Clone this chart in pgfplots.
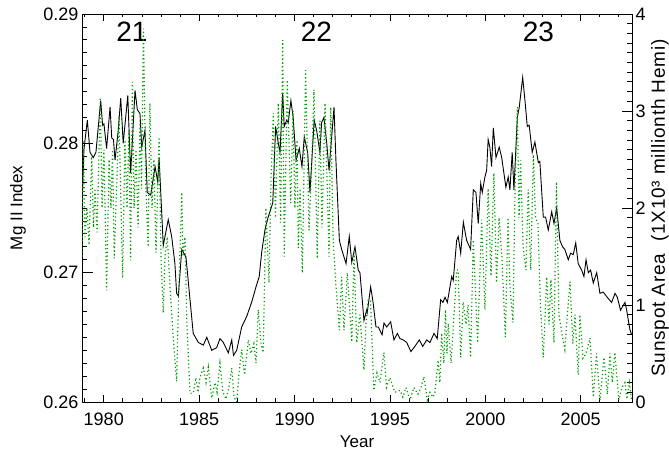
\documentclass[border=0pt]{standalone}
\usepackage{pgfplots}
\pgfplotsset{compat=1.18}
\usepackage{pgfplotstable}
\usepackage{fontspec}
\setmainfont{Liberation Sans}
\definecolor{ssgreen}{RGB}{0,155,0}

\pgfplotstableread{
year mg
1978.86 0.2752
1978.96 0.2795
1979.14 0.2818
1979.28 0.2793
1979.45 0.2789
1979.59 0.2793
1979.84 0.2833
1979.94 0.2814
1980.01 0.2815
1980.15 0.2796
1980.33 0.2828
1980.42 0.2804
1980.51 0.2803
1980.59 0.2787
1980.76 0.2810
1980.89 0.2835
1981.02 0.2800
1981.26 0.2837
1981.41 0.2777
1981.64 0.2841
1981.76 0.2826
1981.90 0.2823
1981.99 0.2797
1982.16 0.2810
1982.28 0.2762
1982.46 0.2760
1982.69 0.2782
1982.83 0.2770
1982.90 0.2789
1983.12 0.2721
1983.38 0.2741
1983.56 0.2728
1983.73 0.2707
1983.82 0.2684
1983.91 0.2682
1984.09 0.2718
1984.31 0.2712
1984.69 0.2653
1984.96 0.2646
1985.22 0.2644
1985.40 0.2650
1985.66 0.2640
1985.92 0.2642
1986.09 0.2649
1986.27 0.2646
1986.53 0.2638
1986.71 0.2648
1986.80 0.2636
1986.97 0.2640
1987.23 0.2658
1987.49 0.2666
1987.75 0.2677
1987.98 0.2689
1988.15 0.2697
1988.28 0.2716
1988.45 0.2733
1988.62 0.2743
1988.86 0.2754
1989.01 0.2813
1989.15 0.2800
1989.24 0.2793
1989.38 0.2839
1989.46 0.2813
1989.59 0.2818
1989.67 0.2816
1989.81 0.2833
1989.93 0.2820
1990.08 0.2787
1990.25 0.2796
1990.39 0.2782
1990.51 0.2805
1990.69 0.2793
1990.81 0.2762
1991.03 0.2818
1991.16 0.2810
1991.33 0.2793
1991.42 0.2816
1991.54 0.2820
1991.69 0.2800
1991.81 0.2779
1992.07 0.2828
1992.17 0.2787
1992.35 0.2725
1992.47 0.2718
1992.70 0.2707
1992.87 0.2728
1993.00 0.2708
1993.17 0.2720
1993.34 0.2702
1993.43 0.2700
1993.64 0.2663
1993.78 0.2671
1993.81 0.2669
1993.99 0.2689
1994.10 0.2679
1994.27 0.2658
1994.39 0.2658
1994.59 0.2652
1994.69 0.2661
1994.83 0.2658
1995.04 0.2662
1995.21 0.2648
1995.39 0.2653
1995.53 0.2649
1995.70 0.2648
1995.88 0.2646
1996.10 0.2639
1996.31 0.2643
1996.54 0.2648
1996.72 0.2643
1996.93 0.2648
1997.10 0.2646
1997.31 0.2653
1997.48 0.2649
1997.66 0.2679
1997.78 0.2677
1997.89 0.2681
1998.01 0.2677
1998.24 0.2697
1998.32 0.2694
1998.50 0.2725
1998.58 0.2728
1998.71 0.2715
1998.85 0.2739
1999.02 0.2725
1999.23 0.2718
1999.37 0.2764
1999.51 0.2762
1999.63 0.2738
1999.76 0.2769
1999.84 0.2762
1999.98 0.2774
2000.07 0.2779
2000.15 0.2803
2000.24 0.2797
2000.33 0.2782
2000.42 0.2812
2000.56 0.2789
2000.73 0.2797
2000.86 0.2789
2001.08 0.2766
2001.20 0.2774
2001.29 0.2764
2001.41 0.2793
2001.50 0.2764
2001.68 0.2820
2001.78 0.2828
2001.96 0.2851
2002.08 0.2833
2002.20 0.2813
2002.30 0.2814
2002.46 0.2793
2002.60 0.2801
2002.78 0.2785
2002.86 0.2786
2003.04 0.2743
2003.16 0.2743
2003.30 0.2733
2003.48 0.2747
2003.60 0.2738
2003.74 0.2750
2003.91 0.2725
2004.05 0.2720
2004.17 0.2718
2004.35 0.2710
2004.47 0.2715
2004.61 0.2714
2004.74 0.2723
2004.87 0.2707
2005.05 0.2702
2005.17 0.2697
2005.28 0.2710
2005.40 0.2700
2005.52 0.2702
2005.66 0.2692
2005.84 0.2700
2006.01 0.2684
2006.18 0.2685
2006.39 0.2681
2006.62 0.2677
2006.80 0.2684
2006.92 0.2681
2007.09 0.2671
2007.32 0.2677
2007.41 0.2671
2007.58 0.2656
2007.67 0.2652
}\mgtable

\pgfplotstableread{
year area
1978.86 1.50
1978.93 2.70
1979.02 1.70
1979.12 2.00
1979.23 1.62
1979.37 2.55
1979.46 1.80
1979.54 2.20
1979.65 1.75
1979.82 3.14
1979.91 2.00
1980.01 2.60
1980.15 1.15
1980.28 2.50
1980.38 2.00
1980.46 2.60
1980.55 1.48
1980.80 2.95
1980.99 1.28
1981.11 2.70
1981.22 2.00
1981.32 2.80
1981.41 1.46
1981.50 3.30
1981.59 2.00
1981.69 2.60
1981.80 1.80
1981.90 2.90
1981.98 2.20
1982.08 3.85
1982.21 2.20
1982.33 1.60
1982.42 3.08
1982.53 2.00
1982.63 2.50
1982.74 1.54
1982.90 2.73
1983.00 1.50
1983.12 0.92
1983.21 1.50
1983.33 1.70
1983.47 1.20
1983.65 0.64
1983.82 0.21
1983.94 1.20
1984.09 2.16
1984.15 1.50
1984.26 1.70
1984.36 0.80
1984.52 0.09
1984.69 0.09
1984.83 0.25
1984.94 0.10
1985.04 0.25
1985.22 0.35
1985.36 0.20
1985.48 0.36
1985.66 0.04
1985.83 0.20
1985.94 0.10
1986.09 0.40
1986.25 0.10
1986.41 0.03
1986.56 0.15
1986.71 0.35
1986.83 0.05
1986.97 0.00
1987.09 0.30
1987.23 0.54
1987.38 0.28
1987.58 0.64
1987.72 0.50
1987.87 0.60
1987.98 0.40
1988.10 0.95
1988.24 0.60
1988.36 0.51
1988.50 2.00
1988.66 1.23
1988.77 2.30
1988.89 2.98
1989.00 1.90
1989.15 3.08
1989.27 1.85
1989.38 3.73
1989.46 1.50
1989.62 3.32
1989.80 2.05
1989.92 3.00
1990.02 2.00
1990.13 2.70
1990.20 1.59
1990.29 2.20
1990.41 1.33
1990.58 3.42
1990.76 1.77
1990.91 2.50
1991.02 3.22
1991.19 1.48
1991.33 2.90
1991.44 1.80
1991.60 3.08
1991.81 1.50
1991.90 3.04
1992.02 1.70
1992.17 1.20
1992.35 0.74
1992.47 1.29
1992.59 0.74
1992.77 1.33
1993.00 0.62
1993.12 1.54
1993.26 0.61
1993.43 0.90
1993.64 0.33
1993.74 0.80
1993.86 1.05
1993.98 1.05
1994.16 0.12
1994.32 0.30
1994.48 0.20
1994.69 0.51
1994.82 0.15
1995.00 0.25
1995.26 0.10
1995.53 0.12
1995.68 0.05
1995.84 0.15
1996.05 0.02
1996.26 0.15
1996.47 0.08
1996.63 0.15
1996.78 0.26
1996.96 0.02
1997.10 0.10
1997.26 0.05
1997.36 0.10
1997.53 0.43
1997.62 0.20
1997.71 0.71
1997.83 0.40
1997.91 0.95
1997.99 0.50
1998.06 0.81
1998.20 0.40
1998.30 0.70
1998.50 1.36
1998.58 1.36
1998.71 0.46
1998.84 1.03
1998.99 0.80
1999.09 1.00
1999.23 0.46
1999.37 1.67
1999.60 0.61
1999.81 1.88
1999.98 0.95
2000.15 2.20
2000.30 1.30
2000.45 2.36
2000.59 1.23
2000.72 1.90
2000.87 1.50
2001.05 0.67
2001.19 1.90
2001.29 1.20
2001.45 0.82
2001.56 2.20
2001.68 3.04
2001.77 1.90
2001.85 2.49
2001.98 1.60
2002.13 1.36
2002.25 2.19
2002.38 1.36
2002.52 2.55
2002.63 1.90
2002.76 1.84
2002.89 1.00
2003.04 0.46
2003.22 1.29
2003.34 0.80
2003.44 1.26
2003.60 0.61
2003.73 2.27
2003.86 0.90
2004.02 0.70
2004.17 0.54
2004.30 0.90
2004.44 1.24
2004.59 0.60
2004.70 0.90
2004.87 0.28
2004.96 0.90
2005.12 0.45
2005.28 0.50
2005.49 0.66
2005.66 0.05
2005.83 0.50
2006.01 0.02
2006.22 0.46
2006.40 0.08
2006.53 0.50
2006.66 0.20
2006.79 0.51
2007.00 0.02
2007.16 0.15
2007.32 0.20
2007.42 0.03
2007.55 0.20
2007.67 0.02
}\areatable

\begin{document}
\begin{tikzpicture}
\path[use as bounding box] (-82pt,-50pt) rectangle (587pt,402pt);
\pgfplotsset{
  every axis/.append style={
    scale only axis, width=550pt, height=388pt,
    at={(0pt,0pt)}, anchor=south west,
    xmin=1978.86, xmax=2007.69,
    tick align=inside,
    tick label style={font=\fontsize{18}{20}\selectfont},
    label style={font=\fontsize{17}{20}\selectfont},
    /pgf/number format/assume math mode=true,
    axis line style={line width=0.8pt, black},
    every tick/.style={black, line width=0.8pt},
  }
}
% main axis: box, x ticks, Mg II data
\begin{axis}[
  ymin=0.26, ymax=0.29,
  ytick=\empty,
  xtick={1980,1985,1990,1995,2000,2005},
  xticklabels={1980,1985,1990,1995,2000,2005},
  minor xtick={1979,1981,1982,1983,1984,1986,1987,1988,1989,1991,1992,1993,1994,1996,1997,1998,1999,2001,2002,2003,2004,2006,2007},
  major tick length=7pt, minor tick length=3.5pt,
  xticklabel style={yshift=-7pt},
  xlabel={Year},
  xlabel style={at={(axis description cs:0.5,0)}, anchor=center, yshift=-39.5pt},
  clip=true,
]
\addplot[black, line width=0.9pt] table[x=year, y=mg] {\mgtable};
\node[font=\fontsize{28}{30}\selectfont] at (axis cs:1981.48,0.2886) {21};
\node[font=\fontsize{28}{30}\selectfont] at (axis cs:1991.15,0.2886) {22};
\node[font=\fontsize{28}{30}\selectfont] at (axis cs:2002.78,0.2886) {23};
\end{axis}
% left y axis
\begin{axis}[
  ymin=0.26, ymax=0.29,
  xtick=\empty,
  ytick pos=left,
  ytick={0.26,0.27,0.28,0.29},
  yticklabels={0.26,0.27,0.28,0.29},
  minor ytick={0.261,0.262,0.263,0.264,0.265,0.266,0.267,0.268,0.269,0.271,0.272,0.273,0.274,0.275,0.276,0.277,0.278,0.279,0.281,0.282,0.283,0.284,0.285,0.286,0.287,0.288,0.289},
  major tick length=11pt, minor tick length=5pt,
  ylabel={Mg II Index},
  ylabel style={at={(axis description cs:0,0.5)}, anchor=center, yshift=64pt},
]
\end{axis}
% right y axis: sunspot area
\begin{axis}[
  ymin=0, ymax=4,
  xtick=\empty,
  ytick pos=right,
  yticklabel pos=right,
  ytick={0,1,2,3,4},
  yticklabels={0,1,2,3,4},
  minor ytick={0.1,0.2,0.3,0.4,0.5,0.6,0.7,0.8,0.9,1.1,1.2,1.3,1.4,1.5,1.6,1.7,1.8,1.9,2.1,2.2,2.3,2.4,2.5,2.6,2.7,2.8,2.9,3.1,3.2,3.3,3.4,3.5,3.6,3.7,3.8,3.9},
  major tick length=10pt, minor tick length=5pt,
  ylabel={Sunspot Area\ \ (1X10³ millionth Hemi)},
  ylabel style={at={(axis description cs:1,0.5)}, anchor=center, yshift=-28pt,
    font=\fontsize{19}{21}\selectfont\addfontfeature{LetterSpace=4}},
  clip=true,
]
\addplot[ssgreen, line width=1.2pt, dash pattern=on 1.2pt off 2.6pt] table[x=year, y=area] {\areatable};
\end{axis}
\end{tikzpicture}
\end{document}
